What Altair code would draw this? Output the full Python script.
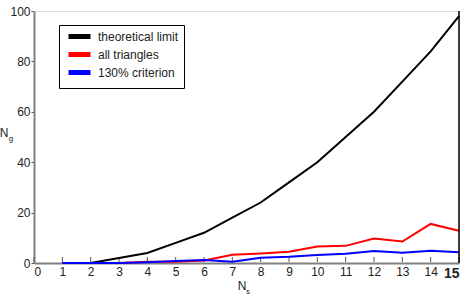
import altair as alt
import pandas as pd

ns = list(range(1, 16))
theory = [0, 0, 2, 4, 8, 12, 18, 24, 32, 40, 50, 60, 72, 84, 98]
all_tri = [0, 0, 0, 0.5, 0.5, 1.0, 3.3, 3.8, 4.5, 6.5, 6.8, 9.7, 8.5, 15.5, 12.8]
crit = [0, 0, 0, 0.3, 0.8, 1.2, 0.5, 2.1, 2.5, 3.2, 3.7, 4.8, 4.1, 4.9, 4.3]

series = ["theoretical limit", "all triangles", "130% criterion"]
colors = ["#000000", "#ff0000", "#0000ff"]
x_ticks = list(range(0, 16))
y_ticks = [0, 20, 40, 60, 80, 100]

FONT = "Liberation Sans"

rows = []
for name, vals in zip(series, [theory, all_tri, crit]):
    for n, v in zip(ns, vals):
        rows.append({"Ns": n, "Ng": v, "series": name})
df = pd.DataFrame(rows)

color = alt.Color(
    "series:N",
    scale=alt.Scale(domain=series, range=colors),
    legend=alt.Legend(
        title=None, orient="none", legendX=25, legendY=14,
        symbolType="M-2.75,0L2.75,0", symbolStrokeWidth=5, symbolSize=64,
        symbolOffset=9, labelOffset=12,
        labelFontSize=12, labelFont=FONT, rowPadding=-3,
        padding=5, strokeColor="#000000", fillColor="#ffffff",
        labelColor="#222222",
    ),
)

x = alt.X(
    "Ns:Q",
    scale=alt.Scale(domain=[0, 15], nice=False, zero=False),
    axis=alt.Axis(
        values=x_ticks, title=None, grid=False, ticks=False, labelOverlap=False,
        domainColor="#808080", domainWidth=2,
        labelFontSize=alt.condition("datum.value == 15", alt.value(14), alt.value(12)),
        labelFontWeight=alt.condition("datum.value == 15", alt.value("bold"), alt.value("normal")),
        labelFont=FONT, labelColor="#222222", labelPadding=3,
    ),
)
y = alt.Y(
    "Ng:Q",
    scale=alt.Scale(domain=[0, 100], nice=False),
    axis=alt.Axis(
        values=y_ticks, title=None, grid=False, tickSize=3, tickColor="#555555",
        domainColor="#808080", domainWidth=2, labelFontSize=12, labelFont=FONT,
        labelColor="#222222", labelPadding=1,
    ),
)

tick_df = pd.DataFrame({"Ns": x_ticks})
xticks = alt.Chart(tick_df).mark_rule(color="#555555", strokeWidth=1).encode(
    x=x, y=alt.value(251), y2=alt.value(246)
)

layers = []
for name in series:
    layers.append(
        alt.Chart(df[df["series"] == name]).mark_line(strokeWidth=2, clip=False).encode(
            x=x, y=y, color=color
        )
    )

right = alt.Chart(pd.DataFrame({"a": [0]})).mark_rule(color="#000000", strokeWidth=1.5).encode(
    x=alt.value(425), y=alt.value(0), y2=alt.value(252)
)

def txt(s, px, py, size):
    return alt.Chart(pd.DataFrame({"t": [s]})).mark_text(
        font=FONT, fontSize=size, color="#222222", align="center", baseline="alphabetic"
    ).encode(text="t:N", x=alt.value(px), y=alt.value(py))

labels = [
    txt("N", -30, 126, 12), txt("g", -23, 130, 8),
    txt("N", 208, 279, 12), txt("s", 214, 283, 8),
]

chart = alt.layer(xticks, *layers, right, *labels).properties(
    width=425, height=252,
    padding={"left": 34, "top": 11, "right": 8, "bottom": 33},
    autosize=alt.AutoSizeParams(type="none"),
).configure_view(stroke="#808080", strokeWidth=2).configure(background="#ffffff")

chart.save("out.html", embed_options={"renderer": "svg", "actions": False})
